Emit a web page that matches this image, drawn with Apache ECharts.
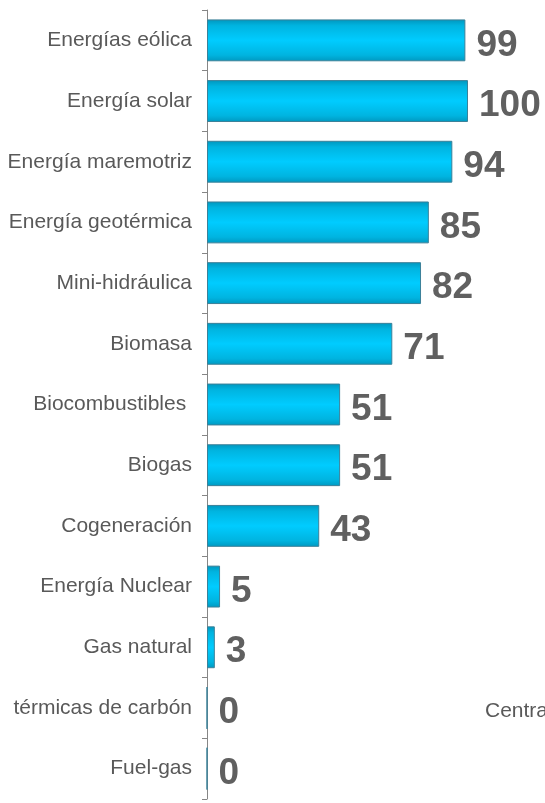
<!DOCTYPE html>
<html><head><meta charset="utf-8">
<script src="https://cdn.jsdelivr.net/npm/echarts@6/dist/echarts.min.js"></script>
<style>html,body{margin:0;padding:0;background:#fff}#c{width:545px;height:803px}</style>
</head><body><div id="c"></div>
<script>
const categories = ["Energías eólica","Energía solar","Energía maremotriz","Energía geotérmica","Mini-hidráulica","Biomasa","Biocombustibles ","Biogas","Cogeneración","Energía Nuclear","Gas natural","Centrales térmicas de carbón","Fuel-gas"];
const values = [99,100,94,85,82,71,51,51,43,5,3,0,0];

const chart = echarts.init(document.getElementById('c'));
chart.setOption({
  animation:false,
  grid:{left:207,right:77,top:10,bottom:4},
  xAxis:{type:'value',min:0,max:100,show:false},
  yAxis:{type:'category',inverse:true,data:categories,
    axisLine:{lineStyle:{color:'#868686',width:1}},
    axisTick:{show:true,length:5,lineStyle:{color:'#868686'}},
    axisLabel:{color:'#595959',fontFamily:'Liberation Sans, Arial',fontSize:21,margin:15,
      formatter:v=>v.startsWith('Centrales ')?v.slice(10):v}},
  series:[{type:'bar',data:values,barCategoryGap:'31%',
    itemStyle:{color:new echarts.graphic.LinearGradient(0,0,0,1,[
      {offset:0,color:'#0096bd'},{offset:0.15,color:'#00b4e0'},{offset:0.5,color:'#00ccff'},
      {offset:0.85,color:'#00b4e0'},{offset:1,color:'#0098c0'}]),
      borderColor:'#3b8199',borderWidth:1},
    label:{show:true,position:'right',distance:11,offset:[0,5],color:'#606060',fontWeight:'bold',
      fontFamily:'Liberation Sans, Arial',fontSize:37}
  }],
  graphic:[{type:'text',x:485,y:711,style:{text:'Centra',fill:'#595959',font:'21px Liberation Sans, Arial',verticalAlign:'middle',textVerticalAlign:'middle'}}]
});
</script></body></html>
